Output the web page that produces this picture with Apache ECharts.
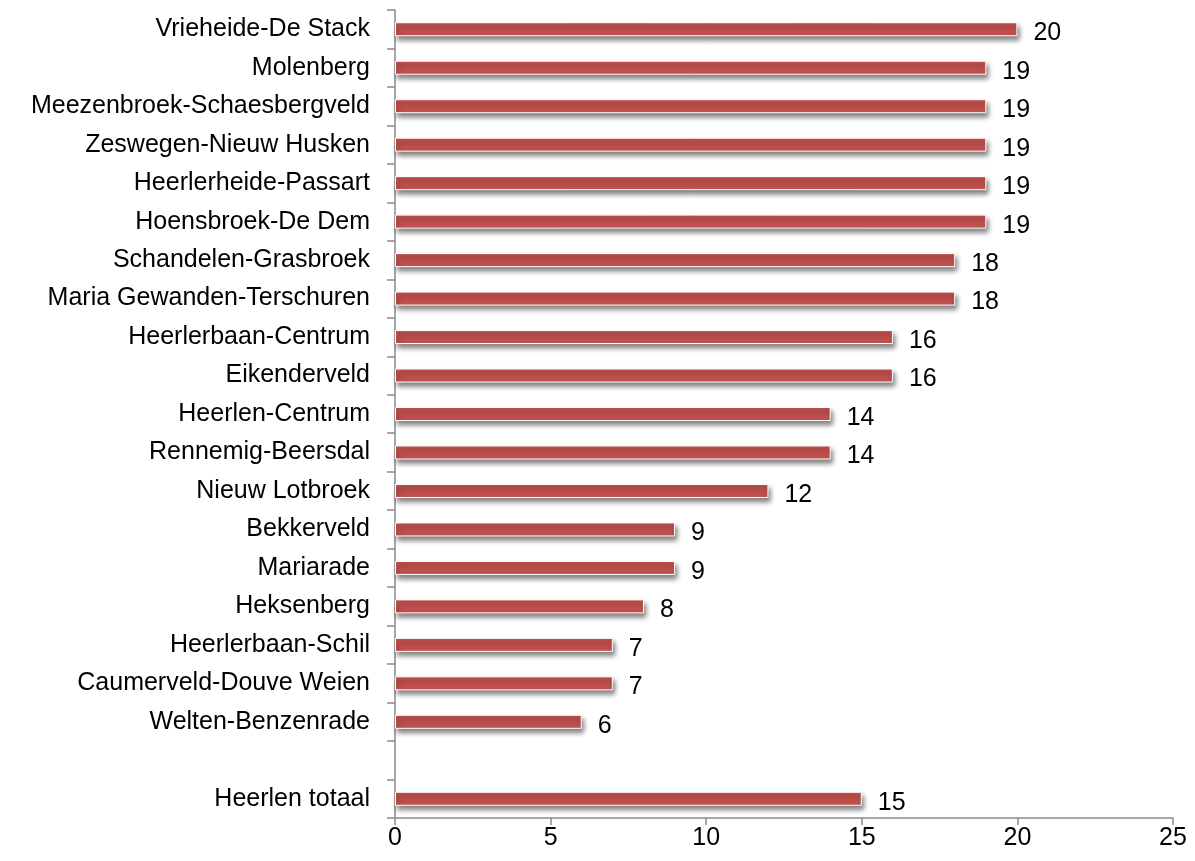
<!DOCTYPE html>
<html>
<head>
<meta charset="utf-8">
<script src="https://cdn.jsdelivr.net/npm/echarts@6/dist/echarts.min.js"></script>
<style>
  html, body { margin: 0; padding: 0; background: #fff; }
  #chart { width: 1195px; height: 861px; }
</style>
</head>
<body>
<div id="chart"></div>
<script>
// wijken, top to bottom (blank row separates the total)
const wijken = [
  'Vrieheide-De Stack', 'Molenberg', 'Meezenbroek-Schaesbergveld', 'Zeswegen-Nieuw Husken',
  'Heerlerheide-Passart', 'Hoensbroek-De Dem', 'Schandelen-Grasbroek', 'Maria Gewanden-Terschuren',
  'Heerlerbaan-Centrum', 'Eikenderveld', 'Heerlen-Centrum', 'Rennemig-Beersdal',
  'Nieuw Lotbroek', 'Bekkerveld', 'Mariarade', 'Heksenberg', 'Heerlerbaan-Schil',
  'Caumerveld-Douve Weien', 'Welten-Benzenrade', '', 'Heerlen totaal'
]
const waarden = [20, 19, 19, 19, 19, 19, 18, 18, 16, 16, 14, 14, 12, 9, 9, 8, 7, 7, 6, null, 15]
const xMin = 0
const xMax = 25
const xStep = 5

const axisGrey = '#8a8a8a'
const font = 'Liberation Sans, Arial, sans-serif'
const chart = echarts.init(document.getElementById('chart'))

chart.setOption({
  animation: false,
  grid: { left: 395, right: 22, top: 10, bottom: 43, containLabel: false },
  xAxis: {
    type: 'value',
    min: xMin,
    max: xMax,
    interval: xStep,
    axisLine: { show: true, lineStyle: { color: axisGrey, width: 1.5 } },
    axisTick: { show: true, length: 7, lineStyle: { color: axisGrey, width: 1.5 } },
    splitLine: { show: false },
    axisLabel: { color: '#000', fontSize: 25, fontFamily: font, margin: 8 },
  },
  yAxis: {
    type: 'category',
    inverse: true,
    data: wijken,
    axisLine: { show: true, lineStyle: { color: axisGrey, width: 1.5 } },
    axisTick: { show: true, length: 8, lineStyle: { color: axisGrey, width: 1.5 } },
    axisLabel: { color: '#000', fontSize: 25, fontFamily: font, margin: 25 },
  },
  series: [
    {
      type: 'bar',
      data: waarden,
      barWidth: 14,
      itemStyle: {
        color: '#c0504d',
        borderColor: '#fff',
        borderWidth: 1,
        shadowColor: 'rgba(0,0,0,0.5)',
        shadowBlur: 5,
        shadowOffsetX: 2,
        shadowOffsetY: 4,
      },
      label: {
        show: true,
        position: 'right',
        distance: 16,
        offset: [0, 4],
        color: '#000',
        fontSize: 25,
        fontFamily: font,
      },
    },
  ],
})
</script>
</body>
</html>
